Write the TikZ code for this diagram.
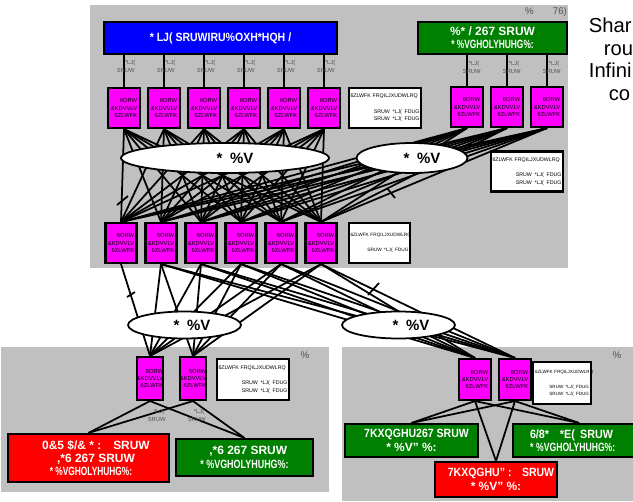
\documentclass[tikz,border=0pt]{standalone}
\usepackage{graphicx}
\usepackage{fontspec}
\setmainfont{Liberation Sans}
\usetikzlibrary{positioning,calc,shapes.geometric}
\definecolor{panelgray}{RGB}{192,192,192}
\definecolor{swmag}{RGB}{255,0,255}
\definecolor{bgblue}{RGB}{0,0,255}
\definecolor{ostgreen}{RGB}{0,128,0}
\definecolor{gwred}{RGB}{255,0,0}
\definecolor{lblgray}{RGB}{80,80,80}
% squeeze a line of text sideways
\newcommand{\sqz}[2]{\scalebox{#1}[1]{#2}}
\tikzset{
  every picture/.append style={line width=1pt},
  panel/.style={fill=panelgray},
  switch/.style={draw, fill=swmag, line width=1.2pt, minimum width=6.4mm, minimum height=8mm, inner sep=0pt, align=right, font=\fontsize{3.3}{4.2}\selectfont},
  cfgbox/.style={draw, fill=white, line width=1.2pt, minimum height=8mm, inner sep=1pt, align=left, font=\fontsize{3}{4.3}\selectfont},
  portbox/.style={draw, line width=1.2pt, inner sep=0pt, align=center, text=white, font=\fontsize{6.8}{7.6}\selectfont\bfseries},
  gbs/.style={draw, ellipse, fill=white, line width=1pt, inner sep=0pt, font=\fontsize{8.5}{9}\selectfont\bfseries},
  portlbl/.style={text=lblgray, align=left, inner sep=0pt, font=\fontsize{3.3}{4.5}\selectfont},
  sitelbl/.style={text=lblgray, inner sep=0pt, font=\fontsize{5.5}{6}\selectfont},
  link/.style={line width=1pt},
  cutmark/.style={line width=1pt}
}

\begin{document}
\begin{tikzpicture}[x=0.2mm, y=-0.2mm]
\useasboundingbox (0,0) rectangle (633,501);
\clip (0,0) rectangle (633,501);

% Panels
\fill[panel] (90,5) rectangle (568,268);
\fill[panel] (1,347) rectangle (329,492);
\fill[panel] (342,347) rectangle (640,501);

% Site labels
\node[sitelbl] (toplbl) at (546,12) {\%\qquad 76)};
\node[sitelbl] (bllbl) at (305,355) {\%};
\node[sitelbl] (brlbl) at (617,355) {\%};

% Note on the right
\node[anchor=north west, align=left, inner sep=0pt, font=\fontsize{11.5}{12.8}\selectfont] (note) at (588,17)
  {Shar\\\hspace*{3mm}rou\\Infini\\\hspace*{4mm}co};

% Top port boxes
\node[portbox, fill=bgblue, minimum width=46.6mm, minimum height=6.4mm] (bgl) at (220.5,38)
  {\sqz{0.88}{* LJ( SRUWIRU\%OXH*HQH /}};
\node[portbox, fill=ostgreen, minimum width=29.8mm, minimum height=6.4mm] (bglost) at (492.5,38)
  {\%* / 267 SRUW\\\sqz{0.7}{* \%VGHOLYHUHG\%:}};

% Top switches
\node[switch] (sw1) at (124,108) {6ORW\\\&KDVVLV\\6ZLWFK};
\node[switch] (sw2) at (164,108) {6ORW\\\&KDVVLV\\6ZLWFK};
\node[switch] (sw3) at (204,108) {6ORW\\\&KDVVLV\\6ZLWFK};
\node[switch] (sw4) at (244,108) {6ORW\\\&KDVVLV\\6ZLWFK};
\node[switch] (sw5) at (284,108) {6ORW\\\&KDVVLV\\6ZLWFK};
\node[switch] (sw6) at (324,108) {6ORW\\\&KDVVLV\\6ZLWFK};
\node[cfgbox, minimum width=14.4mm, text width=13.8mm] (cfgtop) at (385,108)
  {\mbox{6ZLWFK FRQILJXUDWLRQ}\\[1.6mm]\hfill SRUW\enspace *LJ(\enspace FDUG\\\hfill SRUW\enspace *LJ(\enspace FDUG};
\node[switch] (swr1) at (467,107) {6ORW\\\&KDVVLV\\6ZLWFK};
\node[switch] (swr2) at (507,107) {6ORW\\\&KDVVLV\\6ZLWFK};
\node[switch] (swr3) at (547,107) {6ORW\\\&KDVVLV\\6ZLWFK};
\node[cfgbox, minimum width=14.4mm, text width=13.8mm] (cfgright) at (527,171.5)
  {\mbox{6ZLWFK FRQILJXUDWLRQ}\\[1.6mm]\hfill SRUW\enspace *LJ(\enspace FDUG\\\hfill SRUW\enspace *LJ(\enspace FDUG};

% Middle switches
\node[switch, minimum width=6.2mm] (mid1) at (121,243) {6ORW\\\&KDVVLV\\6ZLWFK};
\node[switch, minimum width=6.2mm] (mid2) at (161,243) {6ORW\\\&KDVVLV\\6ZLWFK};
\node[switch, minimum width=6.2mm] (mid3) at (201,243) {6ORW\\\&KDVVLV\\6ZLWFK};
\node[switch, minimum width=6.2mm] (mid4) at (241,243) {6ORW\\\&KDVVLV\\6ZLWFK};
\node[switch, minimum width=6.2mm] (mid5) at (281,243) {6ORW\\\&KDVVLV\\6ZLWFK};
\node[switch, minimum width=6.2mm] (mid6) at (321,243) {6ORW\\\&KDVVLV\\6ZLWFK};
\node[cfgbox, minimum width=12.2mm, text width=11.6mm, font=\fontsize{2.7}{4.3}\selectfont] (cfgmid) at (379.5,243)
  {\mbox{6ZLWFK FRQILJXUDWLRQ}\\[1.6mm]\hfill SRUW\enspace *LJ(\enspace FDUG};

% Bottom left site
\node[switch, minimum width=5.2mm, minimum height=8.6mm] (bl1) at (150,378.5) {6ORW\\\&KDVVLV\\6ZLWFK};
\node[switch, minimum width=5.2mm, minimum height=8.6mm] (bl2) at (193,378.5) {6ORW\\\&KDVVLV\\6ZLWFK};
\node[cfgbox, minimum width=14.4mm, minimum height=8.2mm, text width=13.8mm] (cfgbl) at (253,379.5)
  {\mbox{6ZLWFK FRQILJXUDWLRQ}\\[1.6mm]\hfill SRUW\enspace *LJ(\enspace FDUG\\\hfill SRUW\enspace *LJ(\enspace FDUG};
\node[portbox, fill=gwred, minimum width=32.2mm, minimum height=9.6mm] (mcr) at (88.5,458)
  {\hspace*{3mm}0\&5 \$/\& * :\quad SRUW\\\hspace*{3mm},*6 267 SRUW\\\hspace*{1mm}\sqz{0.7}{* \%VGHOLYHUHG\%:}};
\node[portbox, fill=ostgreen, minimum width=27.4mm, minimum height=7.4mm] (igs) at (244.5,457.5)
  {\hspace*{1.5mm},*6 267 SRUW\\\sqz{0.75}{* \%VGHOLYHUHG\%:}};

% Bottom right site
\node[switch, minimum height=8.2mm] (br1) at (475,379.5) {6ORW\\\&KDVVLV\\6ZLWFK};
\node[switch, minimum height=8.2mm] (br2) at (515,379.5) {6ORW\\\&KDVVLV\\6ZLWFK};
\node[cfgbox, minimum width=11.2mm, minimum height=8.4mm, text width=10.8mm, font=\fontsize{2.6}{4}\selectfont] (cfgbr) at (562,383)
  {\mbox{6ZLWFK FRQILJXUDWLRQ}\\[1.6mm]\hfill SRUW\enspace *LJ(\enspace FDUG\\\hfill SRUW\enspace *LJ(\enspace FDUG};
\node[portbox, fill=ostgreen, minimum width=26.6mm, minimum height=6.6mm] (thost) at (411.5,440.5)
  {\hspace*{2mm}\sqz{0.88}{7KXQGHU267 SRUW}\\* \%V" \%:};
\node[portbox, fill=ostgreen, minimum width=26.4mm, minimum height=6.6mm, align=left, inner xsep=3.4mm, text width=19.6mm] (slug) at (579,440.5)
  {\sqz{0.9}{6/8*\quad *E(\enspace SRUW}\\\sqz{0.72}{* \%VGHOLYHUHG\%:}};
\node[portbox, fill=gwred, minimum width=24.4mm, minimum height=7mm] (thdw) at (496,479.5)
  {\hspace*{2mm}\sqz{0.88}{7KXQGHU" :\quad SRUW}\\* \%V" \%:};

% Uplinks with port labels
\foreach \i in {1,...,6}{
  \draw[link] (bgl.south -| sw\i.north) -- (sw\i.north)
    node[portlbl, pos=0.35, anchor=west, xshift=-1.6mm] {\hspace*{1.6mm}*LJ(\\SRUW};
}
\foreach \i in {1,2,3}{
  \draw[link] (bglost.south -| swr\i.north) -- (swr\i.north)
    node[portlbl, pos=0.4, anchor=west, xshift=-1mm] {\hspace*{1.2mm}*LJ(\\SRUW};
}

% Switch mesh
\foreach \i in {1,...,6}{\foreach \j in {1,...,6}{\draw[link] (sw\i.south) -- (mid\j.north);}}
\foreach \i in {1,2,3}{\foreach \j in {1,...,6}{\draw[link] (swr\i.south) -- (mid\j.north);}}
\draw[link] (mid1.south) -- (bl1.north);
\foreach \i in {2,...,6}{\foreach \t in {bl1,bl2,br1,br2}{\draw[link] (mid\i.south) -- (\t.north);}}

% Site links
\foreach \t in {mcr,igs}{\draw[link] (bl1.south) -- (\t.north); \draw[link] (bl2.south) -- (\t.north);}
\foreach \t in {thost,thdw,slug}{\draw[link] (br1.south) -- (\t.north); \draw[link] (br2.south) -- (\t.north);}
\node[portlbl, anchor=west] (blp1) at ($(bl1.south)+(-3,14)$) {\hspace*{1.2mm}*LJ(\\SRUW};
\node[portlbl, anchor=west] (blp2) at ($(bl2.south)+(-6,14)$) {\hspace*{1.2mm}*LJ(\\SRUW};

% Aggregate bandwidth clouds
\node[gbs, minimum width=41.6mm, minimum height=6mm] (gbsa) at (225,158) {\hspace*{4mm}*\enspace\%V};
\node[gbs, minimum width=22.2mm, minimum height=6mm] (gbsb) at (412,158) {\hspace*{4mm}*\enspace\%V};
\node[gbs, minimum width=22.6mm, minimum height=5.4mm] (gbsc) at (184.5,325) {\hspace*{3mm}*\enspace\%V};
\node[gbs, minimum width=22.6mm, minimum height=5.4mm] (gbsd) at (398.5,325) {\hspace*{5mm}*\enspace\%V};

% Cut marks
\draw[cutmark] (117,205) -- (128,196);
\draw[cutmark] (387,188) -- (395,198);
\draw[cutmark] (127,297) -- (135,292);
\draw[cutmark] (368,295) -- (379,283);

\end{tikzpicture}
\end{document}
